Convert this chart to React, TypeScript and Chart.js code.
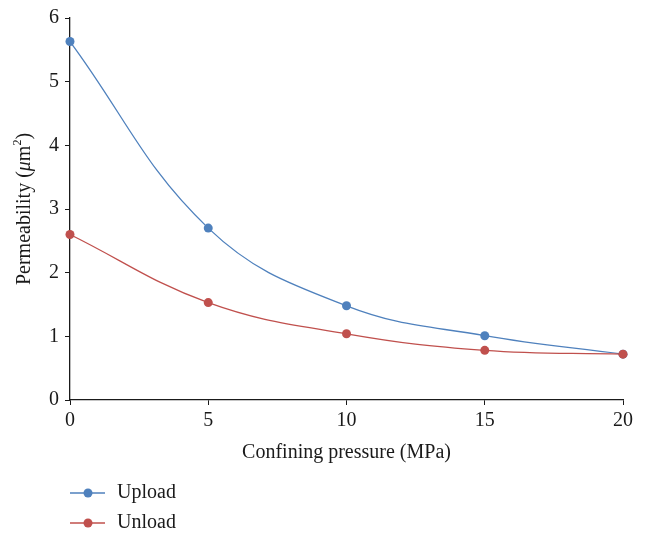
import React, { useEffect, useRef } from "react";
import { Chart, registerables } from "chart.js";

Chart.register(...registerables);

const pressure = [0, 5, 10, 15, 20];
const upload = [5.63, 2.7, 1.48, 1.01, 0.72];
const unload = [2.6, 1.53, 1.04, 0.78, 0.72];
const seriesNames = ["Upload", "Unload"];
const seriesColors = ["rgb(79,129,189)", "rgb(192,80,77)"];
const xTitle = "Confining pressure (MPa)";

const FONT = "'Liberation Serif', 'Times New Roman', serif";
const FS = 20;

const yTitlePlugin = {
  id: "yTitle",
  afterDraw(chart: any) {
    const ctx = chart.ctx;
    const { top, bottom } = chart.chartArea;
    const segs = [
      { t: "Permeability (", f: `${FS}px ${FONT}`, dy: 0 },
      { t: "\u03BC", f: `italic ${FS}px ${FONT}`, dy: 0 },
      { t: "m", f: `${FS}px ${FONT}`, dy: 0 },
      { t: "2", f: `${Math.round(FS * 0.62)}px ${FONT}`, dy: -7 },
      { t: ")", f: `${FS}px ${FONT}`, dy: 0 },
    ];
    ctx.save();
    let total = 0;
    const widths = segs.map((s) => {
      ctx.font = s.f;
      const w = ctx.measureText(s.t).width;
      total += w;
      return w;
    });
    ctx.translate(25, (top + bottom) / 2);
    ctx.rotate(-Math.PI / 2);
    ctx.fillStyle = "#1a1a1a";
    ctx.textBaseline = "middle";
    ctx.textAlign = "left";
    let x = -total / 2;
    segs.forEach((s, i) => {
      ctx.font = s.f;
      ctx.fillText(s.t, x, s.dy);
      x += widths[i];
    });
    ctx.restore();
  },
};

const legendPlugin = {
  id: "customLegend",
  afterDraw(chart: any) {
    const ctx = chart.ctx;
    const x0 = 70;
    const rows = [493, 523];
    ctx.save();
    seriesNames.forEach((name, i) => {
      const y = rows[i];
      ctx.strokeStyle = seriesColors[i];
      ctx.lineWidth = 1.5;
      ctx.beginPath();
      ctx.moveTo(x0, y);
      ctx.lineTo(x0 + 35, y);
      ctx.stroke();
      ctx.fillStyle = seriesColors[i];
      ctx.beginPath();
      ctx.arc(x0 + 18, y, 4.5, 0, Math.PI * 2);
      ctx.fill();
      ctx.fillStyle = "#1a1a1a";
      ctx.font = `${FS}px ${FONT}`;
      ctx.textBaseline = "middle";
      ctx.textAlign = "left";
      ctx.fillText(name, x0 + 47, y);
    });
    ctx.restore();
  },
};

export default function App() {
  const ref = useRef<HTMLCanvasElement>(null);
  useEffect(() => {
    if (!ref.current) return;
    const mk = (vals: number[]) => pressure.map((x, i) => ({ x, y: vals[i] }));
    const chart = new Chart(ref.current, {
      type: "line",
      data: {
        datasets: [
          {
            label: seriesNames[0],
            data: mk(upload),
            borderColor: seriesColors[0],
            backgroundColor: seriesColors[0],
            borderWidth: 1.3,
            pointRadius: 4.5,
            pointBorderWidth: 0,
            tension: 0.4,
            clip: false,
            order: 1,
          },
          {
            label: seriesNames[1],
            data: mk(unload),
            borderColor: seriesColors[1],
            backgroundColor: seriesColors[1],
            borderWidth: 1.3,
            pointRadius: 4.5,
            pointBorderWidth: 0,
            tension: 0.4,
            clip: false,
            order: 0,
          },
        ],
      },
      options: {
        animation: false,
        responsive: false,
        maintainAspectRatio: false,
        layout: { padding: { left: 0, right: 32, top: 18, bottom: 70 } },
        plugins: { legend: { display: false }, tooltip: { enabled: false } },
        scales: {
          x: {
            type: "linear",
            min: 0,
            max: 20,
            ticks: { stepSize: 5, color: "#1a1a1a", font: { family: FONT, size: FS }, padding: 4 },
            grid: { drawOnChartArea: false, drawTicks: true, tickLength: 5, color: "#1a1a1a" },
            border: { color: "#1a1a1a", width: 1.3 },
            title: { display: true, text: xTitle, color: "#1a1a1a", font: { family: FONT, size: FS }, padding: 0 },
            afterFit(scale: any) {
              scale.height = 65;
            },
          },
          y: {
            min: 0,
            max: 6,
            ticks: { stepSize: 1, color: "#1a1a1a", font: { family: FONT, size: FS }, padding: 6 },
            grid: { drawOnChartArea: false, drawTicks: true, tickLength: 5, color: "#1a1a1a" },
            border: { color: "#1a1a1a", width: 1.3 },
            afterFit(scale: any) {
              scale.width = 70;
            },
          },
        },
      } as any,
      plugins: [yTitlePlugin, legendPlugin],
    });
    return () => chart.destroy();
  }, []);
  return (
    <div style={{ position: "absolute", left: 0, top: 0, width: 655, height: 535, background: "#fff" }}>
      <canvas ref={ref} width={655} height={535} style={{ width: 655, height: 535 }} />
    </div>
  );
}
